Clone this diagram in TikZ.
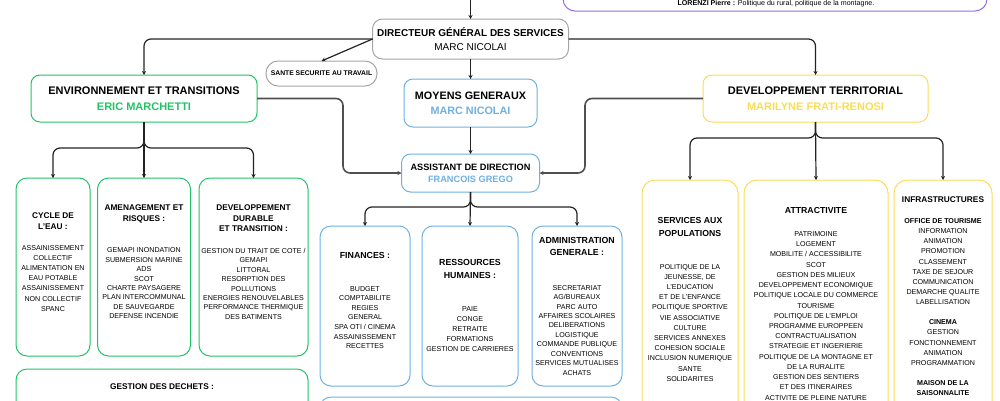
\documentclass[tikz,border=0pt]{standalone}
\usepackage{fontspec}
\setmainfont{Liberation Sans}
\usepackage{xcolor}
\usetikzlibrary{arrows.meta}

\definecolor{vertenv}{RGB}{34,195,102}
\definecolor{bleumg}{RGB}{110,176,224}
\definecolor{jaunedt}{RGB}{250,220,85}
\definecolor{violetelus}{RGB}{150,110,230}
\definecolor{grisdgs}{RGB}{165,165,165}
\definecolor{trait}{RGB}{35,35,35}
\definecolor{traitgris}{RGB}{80,80,80}

\tikzset{
  every node/.style={inner sep=0pt, outer sep=0pt},
  cadre/.style={draw, rounded corners=9pt, line width=1pt},
  sousbloc/.style={cadre, rounded corners=11pt},
  link/.style={draw=trait, line width=1.2pt, rounded corners=7pt, -{Stealth[length=4pt,width=4pt]}},
  sidelink/.style={link, draw=traitgris, line width=1.6pt},
  titre/.style={align=center, font=\bfseries\fontsize{11}{15.5}\selectfont},
  soustitre/.style={align=center, font=\bfseries\fontsize{8.3}{10.8}\selectfont},
  corps/.style={align=center, font=\fontsize{7.1}{9.6}\selectfont},
}

\begin{document}
\begin{tikzpicture}[x=1pt,y=-1pt]
\useasboundingbox (0,0) rectangle (1000,400);
\clip (0,0) rectangle (1000,400);

\node[cadre, draw=violetelus, rounded corners=12pt, minimum width=424pt, minimum height=71pt] (elus) at (775,-24.5) {};
\node[corps] (lorenzi) at (776,3.5) {\textbf{LORENZI Pierre :} Politique du rural, politique de la montagne.};

\node[cadre, draw=grisdgs, rounded corners=10pt, minimum width=196pt, minimum height=40pt, align=center, font=\bfseries\fontsize{10}{14}\selectfont] (dgs) at (470.5,39) {DIRECTEUR GÉNÉRAL DES SERVICES\\\mdseries MARC NICOLAI};
\node[cadre, draw=grisdgs, rounded corners=12pt, minimum width=111pt, minimum height=25pt, font=\bfseries\fontsize{6.8}{8}\selectfont] (sante) at (321.5,73.5) {SANTE SECURITE AU TRAVAIL};
\coordinate (haut) at (470.5,-10);

\node[cadre, draw=vertenv, minimum width=226pt, minimum height=47pt, titre] (env) at (144,98.5) {ENVIRONNEMENT ET TRANSITIONS\\\textcolor{vertenv}{ERIC MARCHETTI}};
\node[cadre, draw=bleumg, minimum width=133pt, minimum height=48pt, align=center, font=\bfseries\fontsize{10.8}{15}\selectfont] (mg) at (470.5,103) {MOYENS GENERAUX\\\textcolor{bleumg}{MARC NICOLAI}};
\node[cadre, draw=bleumg, minimum width=138pt, minimum height=38pt, align=center, font=\bfseries\fontsize{9.2}{12}\selectfont] (ad) at (470.5,173) {ASSISTANT DE DIRECTION\\\textcolor{bleumg}{FRANCOIS GREGO}};
\node[cadre, draw=jaunedt, minimum width=225pt, minimum height=47pt, titre] (dt) at (815.5,98.5) {DEVELOPPEMENT TERRITORIAL\\\textcolor{jaunedt}{MARILYNE FRATI-RENOSI}};

\node[sousbloc, draw=vertenv, minimum width=74pt, minimum height=178pt] (cycle) at (53,267) {};
\node[sousbloc, draw=vertenv, minimum width=93pt, minimum height=178pt] (amen) at (144,267) {};
\node[sousbloc, draw=vertenv, minimum width=109pt, minimum height=178pt] (dd) at (253.5,267) {};
\node[sousbloc, draw=vertenv, minimum width=292pt, minimum height=61pt] (dechets) at (162,399.5) {};

\node[soustitre] (cycleh) at (53,221) {CYCLE DE\\L'EAU :};
\node[corps, font=\fontsize{7.1}{10.2}\selectfont] (cyclet) at (53,278.2) {ASSAINISSEMENT\\COLLECTIF\\ALIMENTATION EN\\EAU POTABLE\\ASSAINISSEMENT\\NON COLLECTIF\\SPANC};
\node[soustitre] (amenh) at (144,214) {AMENAGEMENT ET\\RISQUES :};
\node[corps, font=\fontsize{7.1}{9.4}\selectfont] (ament) at (144,283.3) {GEMAPI INONDATION\\SUBMERSION MARINE\\ADS\\SCOT\\CHARTE PAYSAGERE\\PLAN INTERCOMMUNAL\\DE SAUVEGARDE\\DEFENSE INCENDIE};
\node[soustitre] (ddh) at (253.5,218.3) {DEVELOPPEMENT\\DURABLE\\ET TRANSITION :};
\node[corps, font=\fontsize{7.1}{9.4}\selectfont] (ddt) at (253.5,283.8) {GESTION DU TRAIT DE COTE /\\GEMAPI\\LITTORAL\\RESORPTION DES\\POLLUTIONS\\ENERGIES RENOUVELABLES\\PERFORMANCE THERMIQUE\\DES BATIMENTS};
\node[soustitre] (dechetsh) at (162,387) {GESTION DES DECHETS :};

\node[sousbloc, draw=bleumg, minimum width=90pt, minimum height=160pt] (fin) at (365,306) {};
\node[sousbloc, draw=bleumg, minimum width=96pt, minimum height=160pt] (rh) at (470,306) {};
\node[sousbloc, draw=bleumg, minimum width=90pt, minimum height=160pt] (ag) at (577,306) {};
\node[sousbloc, draw=bleumg, minimum width=302pt, minimum height=53pt] (mgbas) at (471,423.5) {};

\node[soustitre, font=\bfseries\fontsize{8.8}{12.5}\selectfont] (finh) at (365,255.7) {FINANCES :};
\node[corps] (fint) at (365,317.5) {BUDGET\\COMPTABILITE\\REGIES\\GENERAL\\SPA OTI / CINEMA\\ASSAINISSEMENT\\RECETTES};
\node[soustitre, font=\bfseries\fontsize{8.8}{13}\selectfont] (rhh) at (470,269.2) {RESSOURCES\\HUMAINES :};
\node[corps, font=\fontsize{7.1}{10}\selectfont] (rht) at (470,329) {PAIE\\CONGE\\RETRAITE\\FORMATIONS\\GESTION DE CARRIERES};
\node[soustitre, font=\bfseries\fontsize{8.8}{12}\selectfont] (agh) at (577,246.7) {ADMINISTRATION\\GENERALE :};
\node[corps, font=\fontsize{7.1}{9.45}\selectfont] (agt) at (577,330.2) {SECRETARIAT\\AG/BUREAUX\\PARC AUTO\\AFFAIRES SCOLAIRES\\DELIBERATIONS\\LOGISTIQUE\\COMMANDE PUBLIQUE\\CONVENTIONS\\SERVICES MUTUALISES\\ACHATS};

\node[sousbloc, draw=jaunedt, rounded corners=13pt, minimum width=96pt, minimum height=260pt] (sap) at (690,310) {};
\node[sousbloc, draw=jaunedt, rounded corners=13pt, minimum width=144pt, minimum height=260pt] (attr) at (816,310) {};
\node[sousbloc, draw=jaunedt, rounded corners=13pt, minimum width=98pt, minimum height=260pt] (infra) at (943,310) {};

\node[soustitre, font=\bfseries\fontsize{8.7}{12.6}\selectfont] (saph) at (690,227) {SERVICES AUX\\POPULATIONS};
\node[corps, font=\fontsize{7.1}{10.2}\selectfont] (sapt) at (690,322.8) {POLITIQUE DE LA\\JEUNESSE, DE\\L'EDUCATION\\ET DE L'ENFANCE\\POLITIQUE SPORTIVE\\VIE ASSOCIATIVE\\CULTURE\\SERVICES ANNEXES\\COHESION SOCIALE\\INCLUSION NUMERIQUE\\SANTE\\SOLIDARITES};
\node[soustitre, font=\bfseries\fontsize{8.7}{12.6}\selectfont] (attrh) at (816,210.7) {ATTRACTIVITE};
\node[corps, font=\fontsize{7.1}{10.23}\selectfont] (attrt) at (816,315.8) {PATRIMOINE\\LOGEMENT\\MOBILITE / ACCESSIBILITE\\SCOT\\GESTION DES MILIEUX\\DEVELOPPEMENT ECONOMIQUE\\POLITIQUE LOCALE DU COMMERCE\\TOURISME\\POLITIQUE DE L'EMPLOI\\PROGRAMME EUROPPEEN\\CONTRACTUALISATION\\STRATEGIE ET INGERIERIE\\POLITIQUE DE LA MONTAGNE ET\\DE LA RURALITE\\GESTION DES SENTIERS\\ET DES ITINERAIRES\\ACTIVITE DE PLEINE NATURE};
\node[soustitre] (infrah) at (943,199.3) {INFRASTRUCTURES};
\node[corps, font=\fontsize{7.1}{10.2}\selectfont] (infrat) at (943,307) {\textbf{OFFICE DE TOURISME}\\INFORMATION\\ANIMATION\\PROMOTION\\CLASSEMENT\\TAXE DE SEJOUR\\COMMUNICATION\\DEMARCHE QUALITE\\LABELLISATION\\[9.6pt]\textbf{CINEMA}\\GESTION\\FONCTIONNEMENT\\ANIMATION\\PROGRAMMATION\\[9.6pt]\textbf{MAISON DE LA}\\\textbf{SAISONNALITE}};

\draw[link] (haut) -- (dgs.north);
\draw[link] (dgs.west) -| (env.north);
\draw[link] (dgs.east) -| (dt.north);
\draw[link] (dgs.west) -- (sante.north);
\draw[link] (dgs.south) -- (mg.north);
\draw[link] (mg.south) -- (ad.north);
\draw[sidelink] (env.east) -- ++(86,0) |- (ad.west);
\draw[sidelink] (dt.west) -- ++(-118,0) |- (ad.east);

\draw[link] (env.south) -- ++(0,26) -| (cycle.north);
\draw[link] (env.south) -- (amen.north);
\draw[link] (env.south) -- ++(0,26) -| (dd.north);

\draw[link] (ad.south) -- ++(0,15) -| (fin.north);
\draw[link] (ad.south) -- (rh.north);
\draw[link] (ad.south) -- ++(0,15) -| (ag.north);

\draw[link] (dt.south) -- ++(0,16) -| (sap.north);
\draw[link] (dt.south) -- (attr.north);
\draw[link] (dt.south) -- ++(0,16) -| (infra.north);

\end{tikzpicture}
\end{document}
